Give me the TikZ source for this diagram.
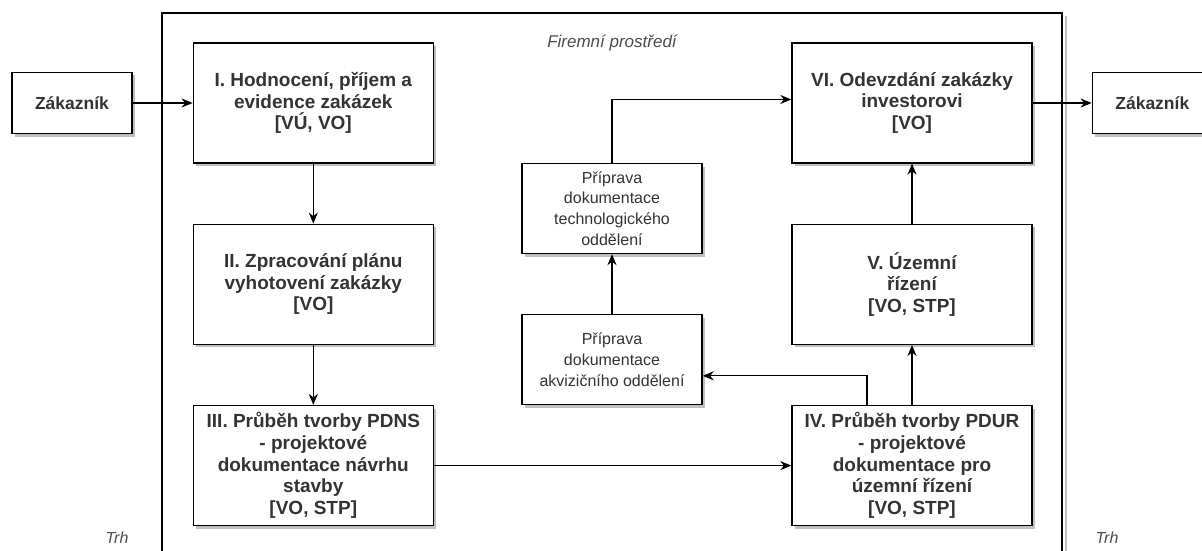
\documentclass[tikz,border=0pt]{standalone}
\usepackage{fontspec}
\setmainfont{Liberation Sans}
\usetikzlibrary{arrows.meta, positioning, shadows}

\begin{document}
\begin{tikzpicture}[
  x=1pt, y=-1pt,
  node distance=60pt and 60pt,
  box/.style={draw, line width=1.3pt, fill=white, text=black!80, align=center, inner sep=2pt,
    minimum width=240pt, minimum height=120pt, font=\fontsize{19}{21.7}\selectfont\bfseries,
    drop shadow={shadow xshift=3pt, shadow yshift=-3pt, fill=black!25, opacity=1}},
  sub/.style={box, minimum width=180pt, minimum height=90pt, font=\fontsize{16}{20.7}\selectfont},
  ext/.style={box, minimum width=120pt, minimum height=61pt, font=\fontsize{17.5}{21}\selectfont\bfseries},
  lbl/.style={text=black!70, font=\fontsize{16}{18}\selectfont\itshape},
  arr/.style={-{Stealth[length=11pt, width=9pt, inset=3.5pt]}, line width=1.3pt}
]
\useasboundingbox (0,0) rectangle (1202,551);
\clip (0,0) rectangle (1202,551);

% company frame (runs off the bottom)
\draw[black!25, line width=2pt] (1065.5,16) -- (1065.5,560);
\draw[line width=1.3pt] (162,560) |- (1062,13) -- (1062,560);

\node[ext] (zakL) at (72,103) {Zákazník};
\node[box, right=60pt of zakL] (hodn) {I. Hodnocení, příjem a\\evidence zakázek\\{[VÚ, VO]}};
\node[box, below=60pt of hodn] (plan) {II. Zpracování plánu\\vyhotovení zakázky\\{[VO]}};
\node[box, below=60pt of plan] (pdns) {III. Průběh tvorby PDNS\\- projektové\\dokumentace návrhu\\stavby\\{[VO, STP]}};

\node[box] (odevz) at (912,103) {VI. Odevzdání zakázky\\investorovi\\{[VO]}};
\node[box, below=60pt of odevz] (uzem) {V. Územní\\řízení\\{[VO, STP]}};
\node[box, below=60pt of uzem] (pdur) {IV. Průběh tvorby PDUR\\- projektové\\dokumentace pro\\územní řízení\\{[VO, STP]}};
\node[ext, right=59pt of odevz] (zakR) {Zákazník};

\node[sub] (tech) at (612,208.5) {Příprava\\dokumentace\\technologického\\oddělení};
\node[sub, below=60pt of tech] (akviz) {Příprava\\dokumentace\\akvizičního oddělení};

\node[lbl, font=\fontsize{17}{19}\selectfont\itshape] (firma) at (612,43) {Firemní prostředí};
\node[lbl] (trhL) at (117,538) {Trh};
\node[lbl] (trhR) at (1107,538) {Trh};

\draw[arr] (zakL) -- (hodn);
\draw[arr] (hodn) -- (plan);
\draw[arr] (plan) -- (pdns);
\draw[arr] (pdns) -- (pdur);
\draw[arr] (pdur) -- (uzem);
\draw[arr] (uzem) -- (odevz);
\draw[arr] (odevz) -- (zakR);
\draw[arr] (akviz) -- (tech);
\draw[arr] (tech.north) |- ([yshift=3.5pt]odevz.west);
\draw[arr] ([xshift=-45pt]pdur.north) |- ([yshift=-16pt]akviz.east);
\end{tikzpicture}
\end{document}
